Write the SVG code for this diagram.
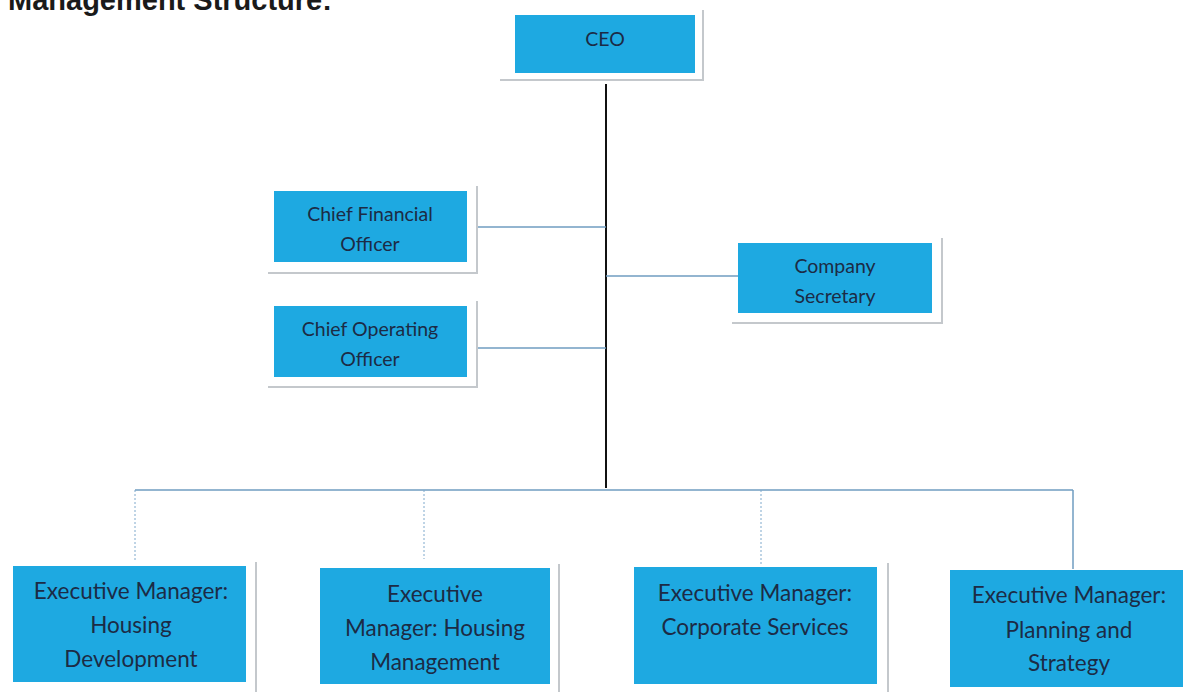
<svg xmlns="http://www.w3.org/2000/svg" width="1190" height="692" viewBox="0 0 1190 692">
  <style>
    .box { fill: #1ea9e1; }
    .shadow { fill: none; stroke: #c4c8cc; stroke-width: 2; }
    .lbl { font-family: Lato, "Open Sans", sans-serif; fill: #1c2b45; text-anchor: middle; }
    .s { font-size: 19.5px; }
    .l { font-size: 22.5px; }
    .link { fill: none; stroke: #6f9cc0; stroke-width: 1.5; }
    .dot { fill: none; stroke: #7fa9cc; stroke-width: 1; stroke-dasharray: 2 2; }
    .title { font-family: "Liberation Sans", Arial, sans-serif; font-weight: bold; font-size: 29px; fill: #1a1a1a; }
  </style>
  <rect width="1190" height="692" fill="#ffffff"/>
  <text class="title" x="8" y="10">Management Structure:</text>

  <g id="connectors">
    <line x1="606" y1="84" x2="606" y2="488" stroke="#111111" stroke-width="2"/>
    <line class="link" x1="477" y1="227" x2="606" y2="227"/>
    <line class="link" x1="477" y1="348" x2="606" y2="348"/>
    <line class="link" x1="606" y1="276" x2="738" y2="276"/>
    <line class="link" x1="135" y1="490" x2="1073" y2="490"/>
    <line class="dot" x1="135" y1="490" x2="135" y2="562"/>
    <line class="dot" x1="424" y1="490" x2="424" y2="559"/>
    <line class="dot" x1="761" y1="490" x2="761" y2="566"/>
    <line class="link" x1="1073" y1="490" x2="1073" y2="569"/>
  </g>

  <g id="ceo">
    <polyline class="shadow" points="500,80 703,80 703,10"/>
    <rect class="box" x="515" y="15" width="180" height="58"/>
    <text class="lbl s" x="605" y="46">CEO</text>
  </g>

  <g id="cfo">
    <polyline class="shadow" points="268,273 477,273 477,186"/>
    <rect class="box" x="274" y="191" width="193" height="71"/>
    <text class="lbl s" x="370" y="221">Chief Financial</text>
    <text class="lbl s" x="370" y="251">Officer</text>
  </g>

  <g id="coo">
    <polyline class="shadow" points="268,387 477,387 477,301"/>
    <rect class="box" x="274" y="306" width="193" height="71"/>
    <text class="lbl s" x="370" y="336">Chief Operating</text>
    <text class="lbl s" x="370" y="366">Officer</text>
  </g>

  <g id="secretary">
    <polyline class="shadow" points="732,323 942,323 942,238"/>
    <rect class="box" x="738" y="243" width="194" height="70"/>
    <text class="lbl s" x="835" y="273">Company</text>
    <text class="lbl s" x="835" y="303">Secretary</text>
  </g>

  <g id="em-housing-development">
    <polyline class="shadow" points="256,562 256,692"/>
    <rect class="box" x="13" y="566" width="233" height="116"/>
    <text class="lbl l" x="131" y="599">Executive Manager:</text>
    <text class="lbl l" x="131" y="633">Housing</text>
    <text class="lbl l" x="131" y="667">Development</text>
  </g>

  <g id="em-housing-management">
    <polyline class="shadow" points="559,564 559,692"/>
    <rect class="box" x="320" y="568" width="230" height="116"/>
    <text class="lbl l" x="435" y="602">Executive</text>
    <text class="lbl l" x="435" y="636">Manager: Housing</text>
    <text class="lbl l" x="435" y="670">Management</text>
  </g>

  <g id="em-corporate-services">
    <polyline class="shadow" points="888,563 888,692"/>
    <rect class="box" x="634" y="567" width="243" height="117"/>
    <text class="lbl l" x="755" y="601">Executive Manager:</text>
    <text class="lbl l" x="755" y="635">Corporate Services</text>
  </g>

  <g id="em-planning-strategy">
    <rect class="box" x="950" y="570" width="233" height="117"/>
    <text class="lbl l" x="1069" y="603">Executive Manager:</text>
    <text class="lbl l" x="1069" y="638">Planning and</text>
    <text class="lbl l" x="1069" y="671">Strategy</text>
  </g>
</svg>
